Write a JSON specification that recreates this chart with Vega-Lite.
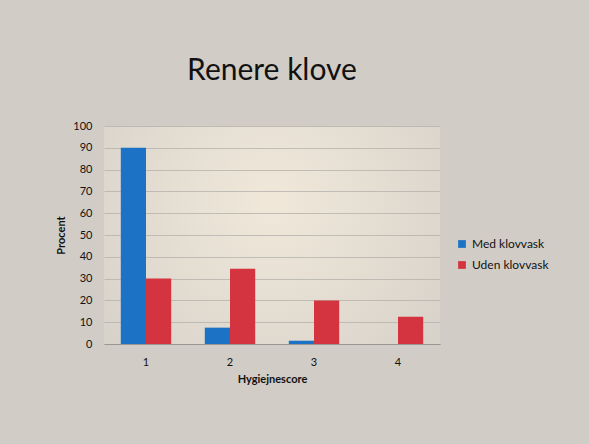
{
  "$schema": "https://vega.github.io/schema/vega-lite/v6.json",
  "autosize": "none",
  "width": 336,
  "height": 218,
  "padding": {"left": 104, "top": 126, "right": 149, "bottom": 100},
  "background": "#d1cdc6",
  "title": {
    "text": "Renere klove",
    "font": "Lato",
    "fontSize": 30,
    "fontWeight": "normal",
    "color": "#111111",
    "anchor": "middle",
    "baseline": "alphabetic",
    "offset": 10
  },
  "data": {
    "values": [
      {"score": "1", "serie": "Med klovvask", "procent": 90},
      {"score": "1", "serie": "Uden klovvask", "procent": 30},
      {"score": "2", "serie": "Med klovvask", "procent": 7.5},
      {"score": "2", "serie": "Uden klovvask", "procent": 34.5},
      {"score": "3", "serie": "Med klovvask", "procent": 1.5},
      {"score": "3", "serie": "Uden klovvask", "procent": 20},
      {"score": "4", "serie": "Med klovvask", "procent": 0},
      {"score": "4", "serie": "Uden klovvask", "procent": 12.5}
    ]
  },
  "mark": {"type": "bar"},
  "encoding": {
    "x": {
      "field": "score",
      "type": "ordinal",
      "scale": {"paddingInner": 0.4, "paddingOuter": 0.2},
      "axis": {
        "title": "Hygiejnescore",
        "labelAngle": 0,
        "labelPadding": 12,
        "ticks": false,
        "domainColor": "#9a9792",
        "titlePadding": 6
      }
    },
    "xOffset": {"field": "serie", "type": "nominal", "sort": ["Med klovvask", "Uden klovvask"]},
    "y": {
      "field": "procent",
      "type": "quantitative",
      "scale": {"domain": [0, 100], "nice": false},
      "axis": {
        "title": "Procent",
        "values": [0, 10, 20, 30, 40, 50, 60, 70, 80, 90, 100],
        "ticks": false,
        "domain": false,
        "labelPadding": 12,
        "titlePadding": 6
      }
    },
    "color": {
      "field": "serie",
      "type": "nominal",
      "sort": ["Med klovvask", "Uden klovvask"],
      "scale": {"domain": ["Med klovvask", "Uden klovvask"], "range": ["#1c72c4", "#d3343f"]},
      "legend": {
        "title": null,
        "orient": "none",
        "legendX": 352,
        "legendY": 112,
        "symbolType": "square",
        "symbolSize": 60,
        "rowPadding": 9,
        "labelFontSize": 12,
        "labelFont": "Lato",
        "labelColor": "#111111"
      }
    }
  },
  "config": {
    "font": "Lato",
    "view": {
      "stroke": null,
      "fill": {
        "gradient": "radial",
        "x1": 0.5, "y1": 0.4, "r1": 0,
        "x2": 0.5, "y2": 0.4, "r2": 0.8,
        "stops": [
          {"offset": 0, "color": "#f1e8da"},
          {"offset": 1, "color": "#d1cdc6"}
        ]
      }
    },
    "axis": {
      "labelFont": "Lato",
      "labelFontSize": 11,
      "labelColor": "#111111",
      "titleFont": "Lato",
      "titleFontSize": 11,
      "titleFontWeight": "bold",
      "titleColor": "#111111",
      "gridColor": "#b5b2ad",
      "gridWidth": 0.8
    }
  }
}
